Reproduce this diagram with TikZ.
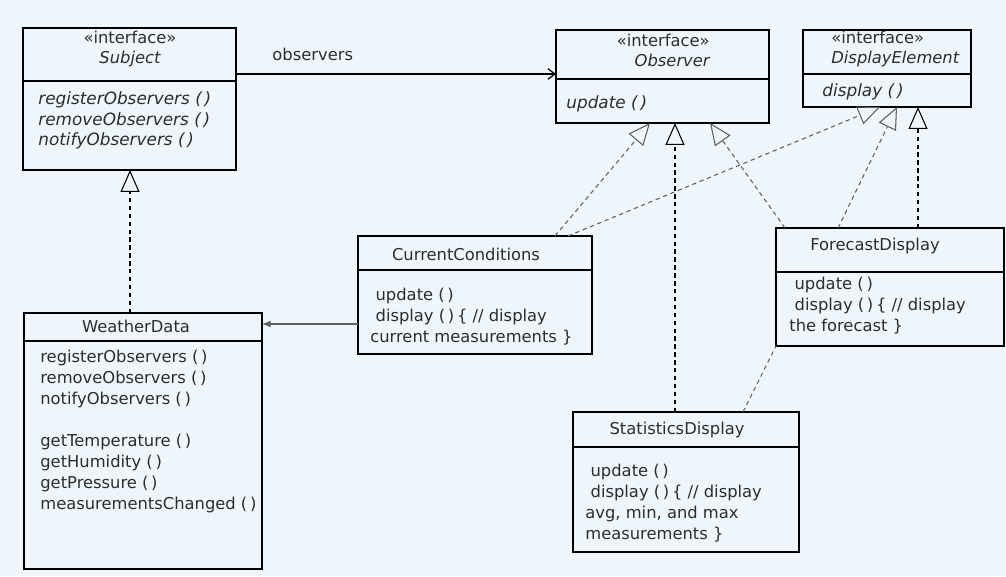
\documentclass[tikz,border=0pt]{standalone}
\usepackage{fontspec}
\setmainfont{DejaVu Sans}
\usetikzlibrary{arrows.meta,calc}

\definecolor{bgblue}{RGB}{238,245,251}
\definecolor{inkgray}{RGB}{45,45,45}
\definecolor{dashgray}{RGB}{95,95,95}

\newcommand{\pp}{(\,)}

\tikzset{
  umlbox/.style={rectangle, draw, line width=0.8pt, anchor=north west,
                 inner sep=0pt, outer sep=0pt},
  title/.style={text=inkgray, inner sep=0pt, font=\fontsize{9.3}{11}\selectfont},
  ops/.style={anchor=north west, align=left, inner sep=0pt, text=inkgray,
              font=\fontsize{9.3}{11.9}\selectfont},
  realize/.style={dash pattern=on 2.5pt off 2pt, line width=0.6pt,
                  -{Triangle[open, length=0.44cm, width=0.38cm]}},
}

\begin{document}
\begin{tikzpicture}[x=0.02cm, y=-0.02cm]

\fill[bgblue] (0,0) rectangle (1006,576);

% class boxes
\node[umlbox, minimum width=4.26cm, minimum height=2.84cm] (subj)   at (23,28)  {};
\node[umlbox, minimum width=4.26cm, minimum height=1.86cm] (obsv)   at (556,30) {};
\node[umlbox, minimum width=3.36cm, minimum height=1.54cm] (dispel) at (803,30) {};
\node[umlbox, minimum width=4.76cm, minimum height=5.12cm] (wdata)  at (24,313) {};
\node[umlbox, minimum width=4.68cm, minimum height=2.36cm] (ccond)  at (358,236) {};
\node[umlbox, minimum width=4.56cm, minimum height=2.36cm] (fcast)  at (776,228) {};
\node[umlbox, minimum width=4.52cm, minimum height=2.80cm] (stats)  at (573,412) {};

% dividers
\draw[line width=0.8pt] (subj.west |- 0,81)   -- (subj.east |- 0,81);
\draw[line width=0.8pt] (obsv.west |- 0,79)   -- (obsv.east |- 0,79);
\draw[line width=0.8pt] (dispel.west |- 0,74) -- (dispel.east |- 0,74);
\draw[line width=0.8pt] (wdata.west |- 0,341)  -- (wdata.east |- 0,341);
\draw[line width=0.8pt] (ccond.west |- 0,270)  -- (ccond.east |- 0,270);
\draw[line width=0.8pt] (fcast.west |- 0,272)  -- (fcast.east |- 0,272);
\draw[line width=0.8pt] (stats.west |- 0,447)  -- (stats.east |- 0,447);

% names
\node[title, align=center] (subjname) at (130,49) {«interface»\\ \itshape Subject};
\node[title, align=right, anchor=north east] (obsvname) at (710,34) {«interface»\\ \itshape Observer};
\node[title, align=left, anchor=north west] (dispelname) at (831,31) {«interface»\\ \itshape DisplayElement};
\node[title] (wdataname) at (136,326) {WeatherData};
\node[title] (ccondname) at (466,254) {CurrentConditions};
\node[title] (fcastname) at (875,246) {ForecastDisplay};
\node[title] (statsname) at (677,430) {StatisticsDisplay};

% operations
\node[ops, font=\fontsize{9.6}{11.9}\selectfont\itshape] (subjops) at (38,91)
  {registerObservers \pp\\ removeObservers \pp\\ notifyObservers \pp};
\node[ops, font=\fontsize{9.6}{11.9}\selectfont\itshape] (obsvops) at (566,95) {update \pp};
\node[ops, font=\fontsize{9.6}{11.9}\selectfont\itshape] (dispelops) at (822,83) {display \pp};
\node[ops] (wdataops) at (40,350)
  {registerObservers \pp\\ removeObservers \pp\\ notifyObservers \pp\\[11.9pt]
   getTemperature \pp\\ getHumidity \pp\\ getPressure \pp\\ measurementsChanged \pp};
\node[ops] (ccondops) at (370,288)
  {\hspace{3pt}update \pp\\ \hspace{3pt}display \pp\,\{ // display\\ current measurements \}};
\node[ops] (fcastops) at (789,277)
  {\hspace{3pt}update \pp\\ \hspace{3pt}display \pp\,\{ // display\\ the forecast \}};
\node[ops] (statsops) at (585,464)
  {\hspace{3pt}update \pp\\ \hspace{3pt}display \pp\,\{ // display\\ avg, min, and max\\ measurements \}};

% associations
\draw[line width=0.7pt, -{Straight Barb[length=4pt, width=6pt]}]
  ($(subj.north east)+(0,46)$) -- ($(obsv.north west)+(0,44)$)
  node[pos=0.24, above=7pt, title] (obslabel) {observers};
\draw[line width=0.7pt, dashgray, -{Latex[length=5pt, width=4pt]}]
  ($(ccond.north west)+(0,88)$) -- ($(wdata.north east)+(0,11)$);

% realizations
\draw[realize] ($(wdata.north west)+(106,0)$) -- ($(subj.south west)+(107,0)$);
\draw[realize, dashgray] ($(ccond.north west)+(197,0)$) -- ($(obsv.south west)+(94,0)$);
\draw[realize, dashgray] ($(ccond.north west)+(210,0)$) -- ($(dispel.south west)+(77,0)$);
\draw[realize] ($(stats.north west)+(102,0)$) -- ($(obsv.south west)+(119,0)$);
\draw[realize, dashgray] ($(fcast.north west)+(9,0)$) -- ($(obsv.south west)+(154,0)$);
\draw[realize, dashgray] ($(fcast.north west)+(62,0)$) -- ($(dispel.south west)+(94,0)$);
\draw[realize] ($(fcast.north west)+(142,0)$) -- ($(dispel.south west)+(115,0)$);
\draw[dashgray, dash pattern=on 2.5pt off 2pt, line width=0.6pt]
  ($(stats.north west)+(170,0)$) -- (fcast.south west);

\end{tikzpicture}
\end{document}
